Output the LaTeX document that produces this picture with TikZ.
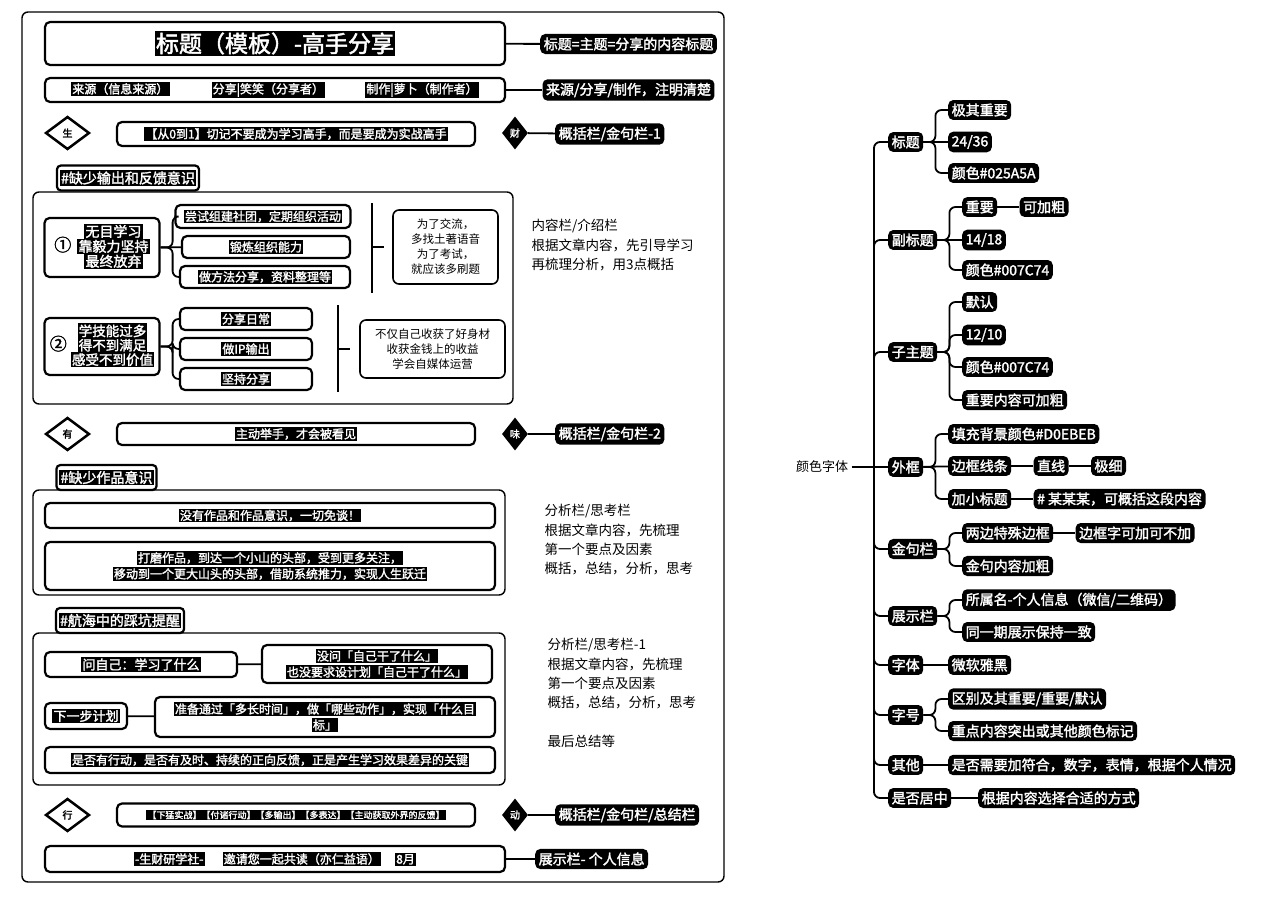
\documentclass[tikz,border=0pt]{standalone}
\usepackage{fontspec}
\setmainfont{Noto Sans CJK SC}[AutoFakeBold=2]
\usetikzlibrary{positioning,shapes.geometric}

\newcommand{\blk}[1]{{\setlength{\fboxsep}{1.2pt}\colorbox{black}{\textcolor{white}{#1}}}}

\begin{document}
\begin{tikzpicture}
  [x=1pt,y=-1pt,
  panel/.style={draw,line width=2.2pt,rounded corners=5pt,fill=white,align=center,inner sep=0pt,font=\bfseries\fontsize{12}{16}\selectfont},
  section/.style={draw,line width=1.4pt,rounded corners=6pt,inner sep=0pt},
  tab/.style={draw,line width=2.2pt,rounded corners=4pt,fill=white,inner sep=3pt,minimum height=25pt,font=\bfseries\fontsize{14}{16}\selectfont},
  note/.style={draw,line width=1.6pt,rounded corners=6pt,align=center,font=\fontsize{11.5}{15}\selectfont},
  ann/.style={anchor=north west,align=left,font=\fontsize{13.5}{19.3}\selectfont},
  tag/.style={fill=black,text=white,rounded corners=5pt,inner sep=3.5pt,font=\bfseries\fontsize{14}{16}\selectfont},
  gem/.style={diamond,draw,line width=2.5pt,fill=white,inner sep=0pt,minimum width=44pt,minimum height=33pt,font=\bfseries\fontsize{10}{10}\selectfont},
  jewel/.style={diamond,fill=black,text=white,inner sep=0pt,minimum width=26pt,minimum height=33pt,font=\bfseries\fontsize{10}{10}\selectfont},
  link/.style={line width=1.8pt,rounded corners=6pt}]

\useasboundingbox (0,0) rectangle (1280,907);

% template page
\node[section,minimum width=702pt,minimum height=870pt] (page) at (373,447) {};

\node[panel,minimum width=460pt,minimum height=43pt,font=\bfseries\fontsize{23}{26}\selectfont] (title) at (275,43.5) {\blk{标题（模板）-高手分享}};
\node[tag] (title-tag) at (628.5,44) {标题=主题=分享的内容标题};
\draw [link] (title) -- (title-tag);

\node[panel,minimum width=460pt,minimum height=24pt] (source) at (275,90) {\blk{来源（信息来源）}\hspace{42pt}\blk{分享|笑笑（分享者）}\hspace{40pt}\blk{制作|萝卜（制作者）}};
\node[tag] (source-tag) at (628.5,90) {来源/分享/制作，注明清楚};
\draw [link] (source) -- (source-tag);

\node[gem] (gem-sheng) at (67.5,133) {生};
\node[panel,minimum width=358pt,minimum height=24pt,font=\bfseries\fontsize{12}{16}\selectfont] (motto-1) at (296,134) {\blk{【从0到1】切记不要成为学习高手，而是要成为实战高手}};
\node[jewel] (gem-cai) at (515,133) {财};
\node[tag,anchor=west] (motto-1-tag) at (555,134) {概括栏/金句栏-1};
\draw [link] (gem-cai) -- (motto-1-tag);

% section 1
\node[section,minimum width=480pt,minimum height=212pt] (sec-1) at (273,298) {};
\node[tab] (tab-1) at (128,178) {\blk{\#缺少输出和反馈意识}};

\node[panel,minimum width=115pt,minimum height=59pt] (case-1) at (102,247.5)
  {{\fontsize{17}{17}\selectfont ①}\hspace{6pt}{\fontsize{14}{16}\selectfont\begin{tabular}{@{}c@{}}\blk{无目学习}\\[-3pt]\blk{靠毅力坚持}\\[-3pt]\blk{最终放弃}\end{tabular}}};
\node[panel,minimum width=175pt,minimum height=23pt] (case-1-a) at (263,216.5) {\blk{尝试组建社团，定期组织活动}};
\node[panel,minimum width=168pt,minimum height=22pt] (case-1-b) at (266,247) {\blk{锻炼组织能力}};
\node[panel,minimum width=170pt,minimum height=22pt] (case-1-c) at (265,277) {\blk{做方法分享，资料整理等}};
\draw [link] (case-1.east) -- ++(12,0) |- (case-1-a.west);
\draw [link] (case-1) -- (case-1-b);
\draw [link] (case-1.east) -- ++(12,0) |- (case-1-c.west);

\coordinate (sum-1-top) at (372,203);
\coordinate (sum-1-bot) at (372,293);
\coordinate (sum-1-mid) at (372,247);
\draw [line width=1.6pt] (sum-1-top) -- (sum-1-bot);
\draw [line width=1.6pt] (sum-1-mid) -- ++(12,0);
\node[note,minimum width=105pt,minimum height=74pt] (note-1) at (445.5,247) {为了交流，\\多找土著语音\\为了考试，\\就应该多刷题};

\node[ann] (ann-1) at (528,216) {内容栏/介绍栏\\根据文章内容，先引导学习\\再梳理分析，用3点概括};

\node[panel,minimum width=115pt,minimum height=57pt] (case-2) at (102,346.5)
  {{\fontsize{17}{17}\selectfont ②}\hspace{4pt}{\fontsize{13.5}{16}\selectfont\begin{tabular}{@{}c@{}}\blk{学技能过多}\\[-3pt]\blk{得不到满足}\\[-3pt]\blk{感受不到价值}\end{tabular}}};
\node[panel,minimum width=132pt,minimum height=22pt] (case-2-a) at (246,319) {\blk{分享日常}};
\node[panel,minimum width=132pt,minimum height=22pt] (case-2-b) at (246,349) {\blk{做IP输出}};
\node[panel,minimum width=132pt,minimum height=22pt] (case-2-c) at (246,379) {\blk{坚持分享}};
\draw [link] (case-2.east) -- ++(12,0) |- (case-2-a.west);
\draw [link] (case-2.east) -- ++(12,0) |- (case-2-b.west);
\draw [link] (case-2.east) -- ++(12,0) |- (case-2-c.west);

\coordinate (sum-2-top) at (338,305);
\coordinate (sum-2-bot) at (338,392);
\coordinate (sum-2-mid) at (338,349);
\draw [line width=1.6pt] (sum-2-top) -- (sum-2-bot);
\draw [line width=1.6pt] (sum-2-mid) -- ++(12,0);
\node[note,minimum width=145pt,minimum height=58pt] (note-2) at (432.5,349) {不仅自己收获了好身材\\收获金钱上的收益\\学会自媒体运营};

\node[gem] (gem-you) at (67.5,434) {有};
\node[panel,minimum width=358pt,minimum height=22pt] (motto-2) at (296,434) {\blk{主动举手，才会被看见}};
\node[jewel] (gem-wei) at (515,434) {味};
\node[tag,anchor=west] (motto-2-tag) at (555,434) {概括栏/金句栏-2};
\draw [link] (gem-wei) -- (motto-2-tag);

% section 2
\node[section,minimum width=472pt,minimum height=105pt] (sec-2) at (269,542.5) {};
\node[tab] (tab-2) at (106.5,477.5) {\blk{\#缺少作品意识}};
\node[panel,minimum width=450pt,minimum height=25pt] (work-1) at (270,515.5) {\blk{没有作品和作品意识，一切免谈！}};
\node[panel,minimum width=450pt,minimum height=48pt] (work-2) at (270,566) {\blk{打磨作品，到达一个小山的头部，受到更多关注，}\\\blk{移动到一个更大山头的头部，借助系统推力，实现人生跃迁}};
\node[ann] (ann-2) at (541,501) {分析栏/思考栏\\根据文章内容，先梳理\\第一个要点及因素\\概括，总结，分析，思考};

% section 3
\node[section,minimum width=472pt,minimum height=152pt] (sec-3) at (269,709) {};
\node[tab] (tab-3) at (120,620.5) {\blk{\#航海中的踩坑提醒}};
\node[panel,minimum width=192pt,minimum height=25pt,font=\bfseries\fontsize{13}{16}\selectfont] (ask) at (141,664.5) {\blk{问自己：学习了什么}};
\node[panel,minimum width=230pt,minimum height=38pt] (ask-ans) at (377,664) {\blk{没问「自己干了什么」}\\\blk{也没要求设计划「自己干了什么」}};
\draw [link] (ask) -- (ask-ans);
\node[panel,minimum width=82pt,minimum height=26pt,font=\bfseries\fontsize{13}{16}\selectfont] (plan) at (86,716) {\blk{下一步计划}};
\node[panel,minimum width=340pt,minimum height=40pt] (plan-ans) at (325,717) {\blk{准备通过「多长时间」，做「哪些动作」，实现「什么目}\\\blk{标」}};
\draw [link] (plan) -- (plan-ans);
\node[panel,minimum width=450pt,minimum height=26pt] (key) at (270,760) {\blk{是否有行动，是否有及时、持续的正向反馈，正是产生学习效果差异的关键}};
\node[ann] (ann-3) at (544,635) {分析栏/思考栏-1\\根据文章内容，先梳理\\第一个要点及因素\\概括，总结，分析，思考\\[19.3pt]最后总结等};

\node[gem] (gem-xing) at (67.5,815) {行};
\node[panel,minimum width=358pt,minimum height=23pt,font=\bfseries\fontsize{9}{12}\selectfont] (motto-3) at (296,815) {\blk{【下猛实战】【付诸行动】【多输出】【多表达】【主动获取外界的反馈】}};
\node[jewel] (gem-dong) at (515,815) {动};
\node[tag,anchor=west] (motto-3-tag) at (555,815) {概括栏/金句栏/总结栏};
\draw [link] (gem-dong) -- (motto-3-tag);

\node[panel,minimum width=460pt,minimum height=26pt] (sign) at (275,859) {\blk{-生财研学社-}\hspace{18pt}\blk{邀请您一起共读（亦仁益语）}\hspace{14pt}\blk{8月}};
\node[tag,anchor=west] (sign-tag) at (535,859) {展示栏- 个人信息};
\draw [link] (sign) -- (sign-tag);

% colour and font tree
\node[font=\fontsize{13}{15}\selectfont] (root) at (822,467) {颜色字体};
\coordinate (trunk) at (874,467);

\node[tag,anchor=west] (h-title) at (888,142) {标题};
\node[tag,anchor=west] (h-sub) at (888,240) {副标题};
\node[tag,anchor=west] (h-topic) at (888,352) {子主题};
\node[tag,anchor=west] (h-box) at (888,467) {外框};
\node[tag,anchor=west] (h-gold) at (888,549) {金句栏};
\node[tag,anchor=west] (h-show) at (888,616) {展示栏};
\node[tag,anchor=west] (h-font) at (888,665) {字体};
\node[tag,anchor=west] (h-size) at (888,715) {字号};
\node[tag,anchor=west] (h-other) at (888,765) {其他};
\node[tag,anchor=west] (h-center) at (888,798) {是否居中};

\draw [link] (root) -- (trunk);
\draw [link] (trunk) |- (h-title.west);
\draw [link] (trunk) |- (h-sub.west);
\draw [link] (trunk) |- (h-topic.west);
\draw [link] (trunk) -- (h-box.west);
\draw [link] (trunk) |- (h-gold.west);
\draw [link] (trunk) |- (h-show.west);
\draw [link] (trunk) |- (h-font.west);
\draw [link] (trunk) |- (h-size.west);
\draw [link] (trunk) |- (h-other.west);
\draw [link] (trunk) |- (h-center.west);

\node[tag,anchor=west] (title-a) at (948,110) {极其重要};
\node[tag,anchor=west] (title-b) at (948,142) {24/36};
\node[tag,anchor=west] (title-c) at (948,173) {颜色\#025A5A};
\draw [link] (h-title.east) -- ++(12,0) |- (title-a.west);
\draw [link] (h-title) -- (title-b);
\draw [link] (h-title.east) -- ++(12,0) |- (title-c.west);

\node[tag,anchor=west] (sub-a) at (962,207) {重要};
\node[tag] (sub-a-bold) [right=22pt of sub-a] {可加粗};
\node[tag,anchor=west] (sub-b) at (962,240) {14/18};
\node[tag,anchor=west] (sub-c) at (962,270) {颜色\#007C74};
\draw [link] (h-sub.east) -- ++(12,0) |- (sub-a.west);
\draw [link] (h-sub) -- (sub-b);
\draw [link] (h-sub.east) -- ++(12,0) |- (sub-c.west);
\draw [link] (sub-a) -- (sub-a-bold);

\node[tag,anchor=west] (topic-a) at (962,302) {默认};
\node[tag,anchor=west] (topic-b) at (962,335) {12/10};
\node[tag,anchor=west] (topic-c) at (962,367) {颜色\#007C74};
\node[tag,anchor=west] (topic-d) at (962,400) {重要内容可加粗};
\draw [link] (h-topic.east) -- ++(12,0) |- (topic-a.west);
\draw [link] (h-topic.east) -- ++(12,0) |- (topic-b.west);
\draw [link] (h-topic.east) -- ++(12,0) |- (topic-c.west);
\draw [link] (h-topic.east) -- ++(12,0) |- (topic-d.west);

\node[tag,anchor=west] (box-a) at (948,434) {填充背景颜色\#D0EBEB};
\node[tag,anchor=west] (box-b) at (948,466) {边框线条};
\node[tag] (box-b-line) [right=22pt of box-b] {直线};
\node[tag] (box-b-thin) [right=22pt of box-b-line] {极细};
\node[tag,anchor=west] (box-c) at (948,499) {加小标题};
\node[tag] (box-c-head) [right=22pt of box-c] {\# 某某某，可概括这段内容};
\draw [link] (h-box.east) -- ++(12,0) |- (box-a.west);
\draw [link] (h-box) -- (box-b);
\draw [link] (h-box.east) -- ++(12,0) |- (box-c.west);
\draw [link] (box-b) -- (box-b-line);
\draw [link] (box-b-line) -- (box-b-thin);
\draw [link] (box-c) -- (box-c-head);

\node[tag,anchor=west] (gold-a) at (962,533) {两边特殊边框};
\node[tag] (gold-a-word) [right=22pt of gold-a] {边框字可加可不加};
\node[tag,anchor=west] (gold-b) at (962,566) {金句内容加粗};
\draw [link] (h-gold.east) -- ++(12,0) |- (gold-a.west);
\draw [link] (h-gold.east) -- ++(12,0) |- (gold-b.west);
\draw [link] (gold-a) -- (gold-a-word);

\node[tag,anchor=west] (show-a) at (962,600) {所属名-个人信息（微信/二维码）};
\node[tag,anchor=west] (show-b) at (962,632) {同一期展示保持一致};
\draw [link] (h-show.east) -- ++(12,0) |- (show-a.west);
\draw [link] (h-show.east) -- ++(12,0) |- (show-b.west);

\node[tag,anchor=west] (font-a) at (948,665) {微软雅黑};
\draw [link] (h-font) -- (font-a);

\node[tag,anchor=west] (size-a) at (948,699) {区别及其重要/重要/默认};
\node[tag,anchor=west] (size-b) at (948,731) {重点内容突出或其他颜色标记};
\draw [link] (h-size.east) -- ++(12,0) |- (size-a.west);
\draw [link] (h-size.east) -- ++(12,0) |- (size-b.west);

\node[tag,anchor=west] (other-a) at (948,765) {是否需要加符合，数字，表情，根据个人情况};
\draw [link] (h-other) -- (other-a);

\node[tag,anchor=west] (center-a) at (978,798) {根据内容选择合适的方式};
\draw [link] (h-center) -- (center-a);

\end{tikzpicture}
\end{document}
